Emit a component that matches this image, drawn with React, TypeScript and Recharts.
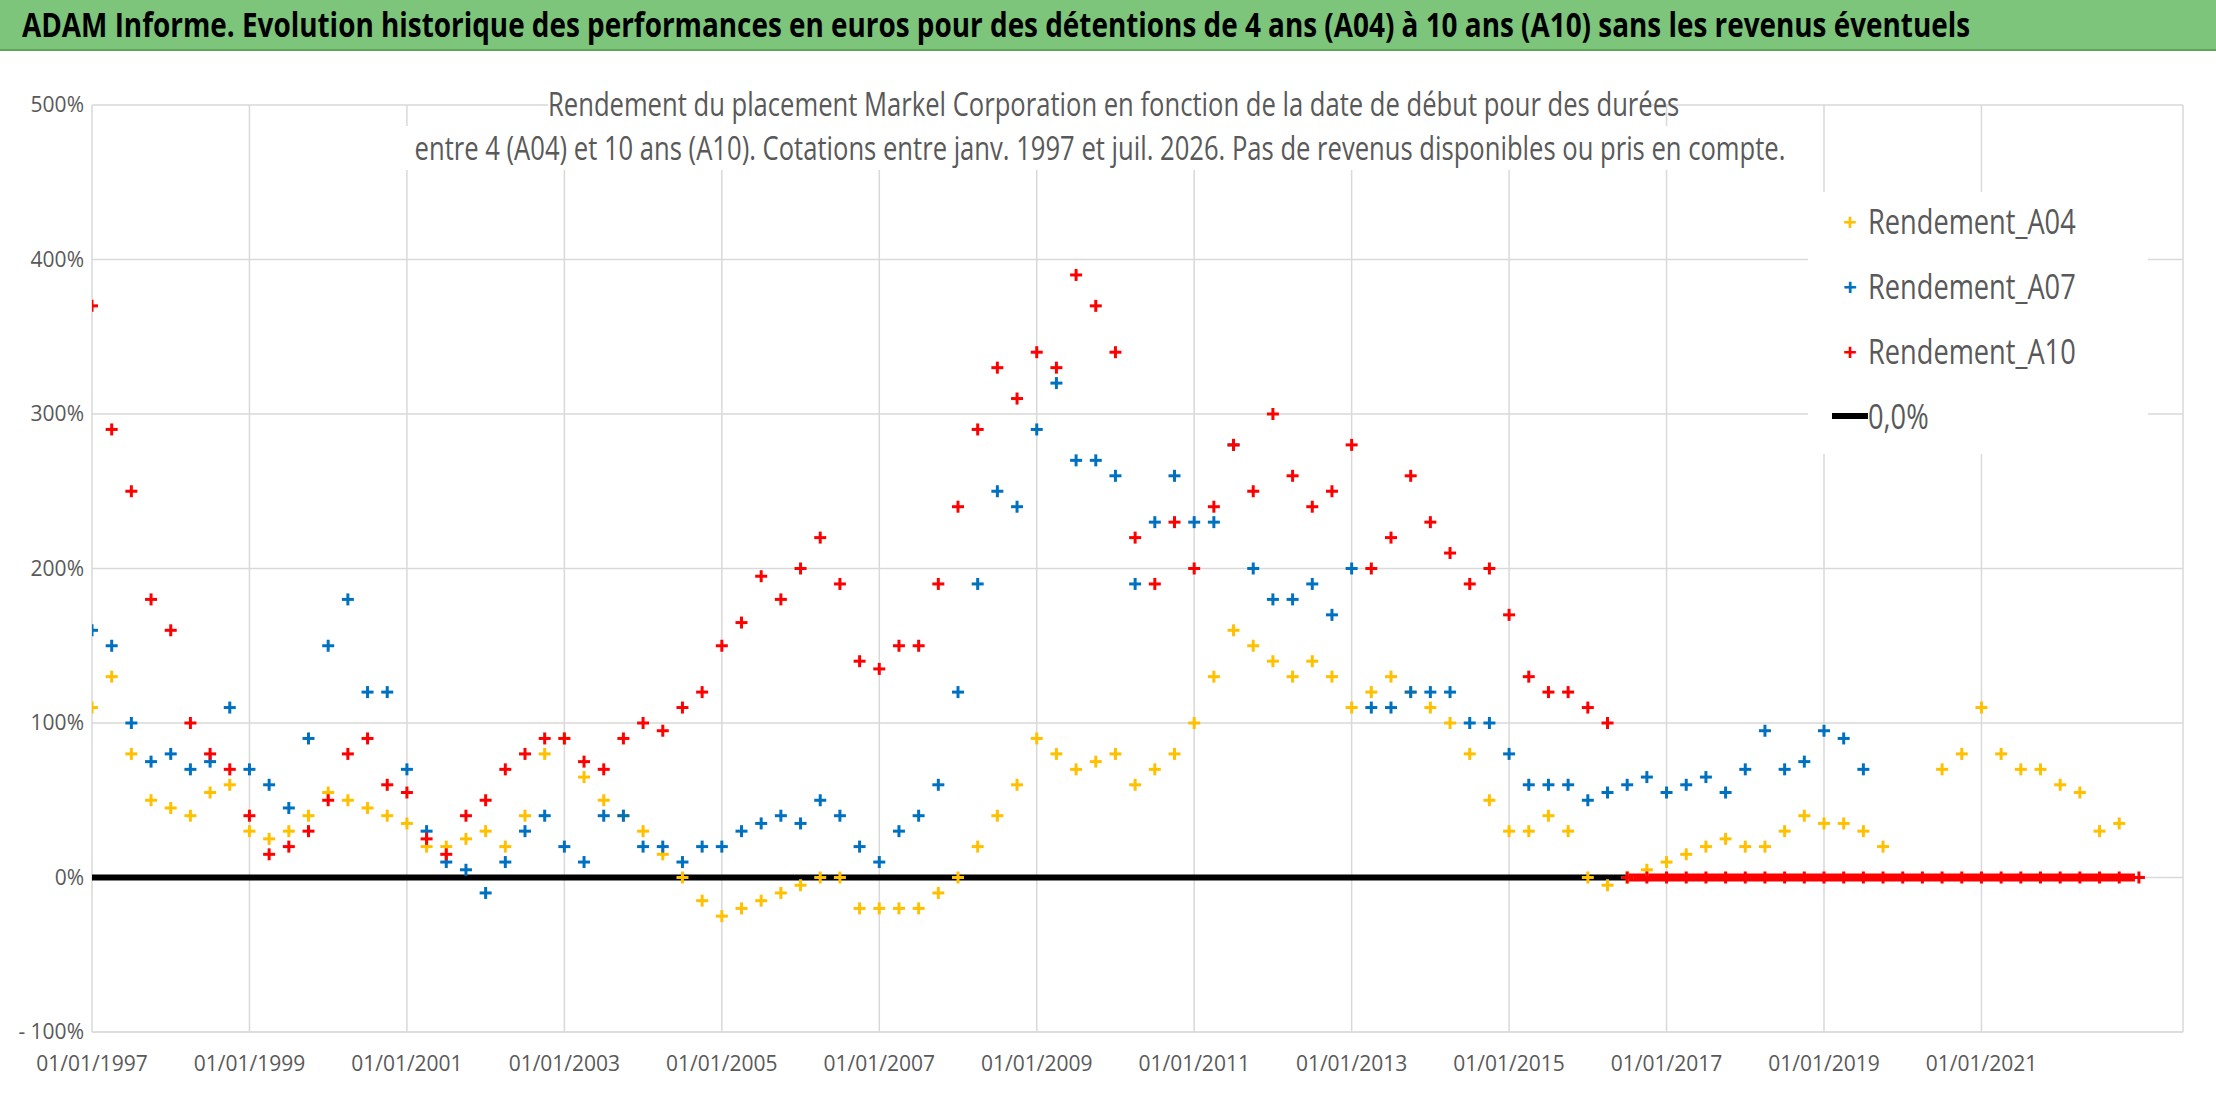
import React from "react";
import {
  ScatterChart,
  Scatter,
  XAxis,
  YAxis,
  CartesianGrid,
} from "recharts";

// quarterly samples starting 01/01/1997
const START = 1997;
const STEP = 0.25;

const a04Values = [
  110, 130, 80, 50, 45, 40, 55, 60, 30, 25, 30, 40, 55, 50, 45, 40, 35, 20, 20, 25,
  30, 20, 40, 80, 90, 65, 50, 40, 30, 15, 0, -15, -25, -20, -15, -10, -5, 0, 0, -20,
  -20, -20, -20, -10, 0, 20, 40, 60, 90, 80, 70, 75, 80, 60, 70, 80, 100, 130, 160, 150,
  140, 130, 140, 130, 110, 120, 130, 120, 110, 100, 80, 50, 30, 30, 40, 30, 0, -5, 0, 5,
  10, 15, 20, 25, 20, 20, 30, 40, 35, 35, 30, 20, null, null, 70, 80, 110, 80, 70, 70,
  60, 55, 30, 35,
];

const a07Values = [
  160, 150, 100, 75, 80, 70, 75, 110, 70, 60, 45, 90, 150, 180, 120, 120, 70, 30, 10, 5,
  -10, 10, 30, 40, 20, 10, 40, 40, 20, 20, 10, 20, 20, 30, 35, 40, 35, 50, 40, 20,
  10, 30, 40, 60, 120, 190, 250, 240, 290, 320, 270, 270, 260, 190, 230, 260, 230, 230, 280, 200,
  180, 180, 190, 170, 200, 110, 110, 120, 120, 120, 100, 100, 80, 60, 60, 60, 50, 55, 60, 65,
  55, 60, 65, 55, 70, 95, 70, 75, 95, 90, 70,
];

const a10Values = [
  370, 290, 250, 180, 160, 100, 80, 70, 40, 15, 20, 30, 50, 80, 90, 60, 55, 25, 15, 40,
  50, 70, 80, 90, 90, 75, 70, 90, 100, 95, 110, 120, 150, 165, 195, 180, 200, 220, 190, 140,
  135, 150, 150, 190, 240, 290, 330, 310, 340, 330, 390, 370, 340, 220, 190, 230, 200, 240, 280, 250,
  300, 260, 240, 250, 280, 200, 220, 260, 230, 210, 190, 200, 170, 130, 120, 120, 110, 100,
  0, 0, 0, 0, 0, 0, 0, 0, 0, 0, 0, 0, 0, 0, 0, 0, 0, 0, 0, 0, 0, 0, 0, 0, 0, 0, 0,
];

const zeroLine = [
  { x: 1997, y: 0 },
  { x: 2016.5, y: 0 },
];
const a10ZeroLine = [
  { x: 2016.5, y: 0 },
  { x: 2022.95, y: 0 },
];

const xTicks = [1997, 1999, 2001, 2003, 2005, 2007, 2009, 2011, 2013, 2015, 2017, 2019, 2021];
const yTicks = [-100, 0, 100, 200, 300, 400, 500];

const toPoints = (vals: (number | null)[]) =>
  vals
    .map((v, i) => ({ x: START + i * STEP, y: v }))
    .filter((p) => p.y !== null);

const FONT = "'Open Sans', Arial, sans-serif";

const Plus = (color: string) => (props: any) => {
  const { cx, cy } = props;
  if (cx == null || cy == null) return null;
  const s = 6;
  return (
    <g stroke={color} strokeWidth={3}>
      <line x1={cx - s} y1={cy} x2={cx + s} y2={cy} />
      <line x1={cx} y1={cy - s} x2={cx} y2={cy + s} />
    </g>
  );
};

const legendItems = [
  { name: "Rendement_A04", color: "#ffc000", kind: "plus" },
  { name: "Rendement_A07", color: "#0070c0", kind: "plus" },
  { name: "Rendement_A10", color: "#ff0000", kind: "plus" },
  { name: "0,0%", color: "#000000", kind: "line" },
];

const narrow = (scale: number): React.CSSProperties => ({
  display: "inline-block",
  transform: `scaleX(${scale})`,
  transformOrigin: "left center",
  whiteSpace: "nowrap",
});

export default function App() {
  return (
    <div
      style={{
        position: "absolute",
        left: 0,
        top: 0,
        width: 2216,
        height: 1102,
        background: "#fff",
        fontFamily: FONT,
        overflow: "hidden",
      }}
    >
      <div
        style={{
          height: 49,
          background: "#7cc57a",
          borderBottom: "2px solid #5aa857",
          fontWeight: "bold",
          fontSize: 34,
          lineHeight: "49px",
          paddingLeft: 22,
          color: "#000",
        }}
      >
        <span style={narrow(0.82)}>
          ADAM Informe. Evolution historique des performances en euros pour des détentions de 4 ans (A04) à 10 ans (A10) sans les revenus éventuels
        </span>
      </div>
      <div style={{ position: "absolute", top: 51 }}>
        <ScatterChart
          width={2216}
          height={1051}
          margin={{ top: 54, right: 33, bottom: 0, left: 0 }}
        >
          <CartesianGrid stroke="#d9d9d9" strokeWidth={1.5} />
          <XAxis
            type="number"
            dataKey="x"
            domain={[1997, 2023.56]}
            ticks={xTicks}
            tickFormatter={(v) => `01/01/${v}`}
            tick={{ fill: "#595959", fontSize: 21, fontFamily: FONT }}
            axisLine={{ stroke: "#d9d9d9" }}
            tickLine={false}
            height={70}
            tickMargin={18}
            allowDataOverflow
          />
          <YAxis
            type="number"
            dataKey="y"
            domain={[-100, 500]}
            ticks={yTicks}
            tickFormatter={(v) => (v < 0 ? `- ${-v}%` : `${v}%`)}
            tick={{ fill: "#595959", fontSize: 21, fontFamily: FONT }}
            axisLine={false}
            tickLine={false}
            width={92}
          />
          <Scatter
            name="0,0%"
            data={zeroLine}
            line={{ stroke: "#000", strokeWidth: 6 }}
            shape={() => null}
            isAnimationActive={false}
          />
          <Scatter
            name="Rendement_A10 zero"
            data={a10ZeroLine}
            line={{ stroke: "#ff0000", strokeWidth: 8 }}
            shape={() => null}
            isAnimationActive={false}
          />
          <Scatter name="Rendement_A04" data={toPoints(a04Values)} shape={Plus("#ffc000")} isAnimationActive={false} />
          <Scatter name="Rendement_A07" data={toPoints(a07Values)} shape={Plus("#0070c0")} isAnimationActive={false} />
          <Scatter name="Rendement_A10" data={toPoints(a10Values)} shape={Plus("#ff0000")} isAnimationActive={false} />
        </ScatterChart>
      </div>
      <div
        style={{
          position: "absolute",
          top: 82,
          left: 180,
          width: 1840,
          textAlign: "center",
          fontSize: 32,
          lineHeight: "44px",
          color: "#595959",
          whiteSpace: "nowrap",
          transform: "scaleX(0.8)",
          transformOrigin: "center",
        }}
      >
        <div style={{ background: "#fff", margin: "0 230px" }}>Rendement du placement Markel Corporation en fonction de la date de début pour des durées</div>
        <div style={{ background: "#fff", margin: "0 50px" }}>entre 4 (A04) et 10 ans (A10). Cotations entre janv. 1997 et juil. 2026. Pas de revenus disponibles ou pris en compte.</div>
      </div>
      <div
        style={{
          position: "absolute",
          top: 192,
          left: 1808,
          width: 340,
          height: 262,
          background: "#fff",
          color: "#595959",
          fontSize: 34,
        }}
      >
        {legendItems.map((it, i) => (
          <div
            key={it.name}
            style={{ position: "absolute", top: 9 + i * 65, left: 24, display: "flex", alignItems: "center", height: 40 }}
          >
            {it.kind === "plus" ? (
              <span style={{ width: 36, textAlign: "center", color: it.color, fontSize: 24, fontWeight: "bold" }}>+</span>
            ) : (
              <span style={{ width: 36, display: "inline-block", height: 6, background: "#000" }} />
            )}
            <span style={narrow(0.8)}>{it.name}</span>
          </div>
        ))}
      </div>
    </div>
  );
}
